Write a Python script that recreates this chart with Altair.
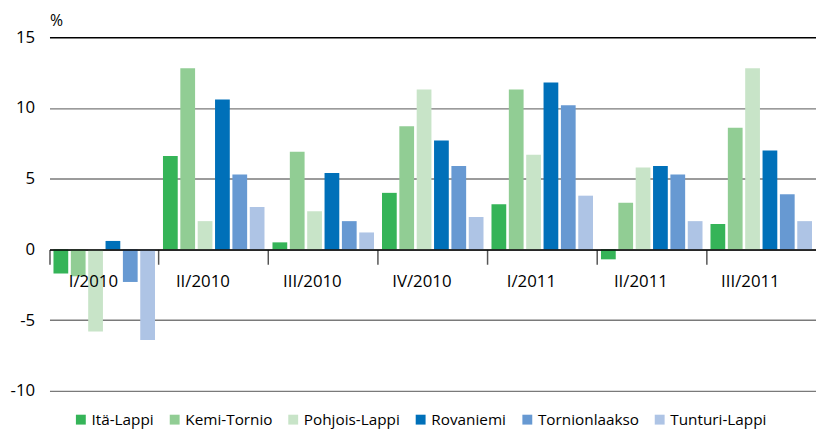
import altair as alt
import pandas as pd

quarters = ["I/2010", "II/2010", "III/2010", "IV/2010", "I/2011", "II/2011", "III/2011"]
regions = ["Itä-Lappi", "Kemi-Tornio", "Pohjois-Lappi", "Rovaniemi", "Tornionlaakso", "Tunturi-Lappi"]
colors = ["#35b458", "#91cd94", "#c8e4c8", "#0070b9", "#6799d2", "#aec4e5"]

ita_lappi = [-1.7, 6.6, 0.5, 4.0, 3.2, -0.7, 1.8]
kemi_tornio = [-1.9, 12.8, 6.9, 8.7, 11.3, 3.3, 8.6]
pohjois_lappi = [-5.8, 2.0, 2.7, 11.3, 6.7, 5.8, 12.8]
rovaniemi = [0.6, 10.6, 5.4, 7.7, 11.8, 5.9, 7.0]
tornionlaakso = [-2.3, 5.3, 2.0, 5.9, 10.2, 5.3, 3.9]
tunturi_lappi = [-6.4, 3.0, 1.2, 2.3, 3.8, 2.0, 2.0]

y_ticks = [-10, -5, 0, 5, 10, 15]

series = [ita_lappi, kemi_tornio, pohjois_lappi, rovaniemi, tornionlaakso, tunturi_lappi]
rows = []
for r, vals in zip(regions, series):
    for q, v in zip(quarters, vals):
        rows.append({"quarter": q, "region": r, "value": v})
df = pd.DataFrame(rows)

W = 776
H = 358
zero_offset = -(H * 10 / 25)

chart = alt.Chart(df).mark_bar().encode(
    x=alt.X(
        "quarter:N", sort=quarters,
        scale=alt.Scale(paddingInner=0, paddingOuter=0),
        axis=alt.Axis(
            title=None, orient="bottom", offset=zero_offset, bandPosition=0,
            labelOffset=-11,
            domainColor="black", domainWidth=1.5,
            tickColor="#555555", tickSize=15, tickWidth=1.5, labelPadding=10,
            labelFontSize=17, labelColor="black", labelAngle=0, zindex=1, grid=False,
        ),
    ),
    xOffset=alt.XOffset("region:N", sort=regions,
                        scale=alt.Scale(paddingInner=0.15, paddingOuter=0.23)),
    y=alt.Y(
        "value:Q",
        scale=alt.Scale(domain=[-10, 15], nice=False),
        axis=alt.Axis(
            values=y_ticks, title="%", titleAngle=0, titleX=0, titleY=-9,
            titleAlign="left", titleBaseline="bottom", titleFontSize=16,
            titleFontWeight="normal", titleColor="black",
            labelFontSize=17, labelColor="black", labelPadding=15,
            labelExpr="datum.value + ''",
            ticks=False, domain=False, grid=True,
            gridColor=alt.condition(alt.datum.value == 15, alt.value("black"), alt.value("#7a7a7a")),
            gridWidth=1.5,
        ),
    ),
    color=alt.Color(
        "region:N", sort=regions,
        scale=alt.Scale(domain=regions, range=colors),
        legend=alt.Legend(
            title=None, orient="none", legendX=24, legendY=379, direction="horizontal",
            symbolType="square", symbolSize=100, symbolStrokeWidth=0,
            labelFontSize=15.5, labelColor="black", columnPadding=13, labelOffset=3,
        ),
    ),
).properties(
    width=W, height=H,
    padding={"left": 2, "top": 2, "right": 0, "bottom": 0},
).configure(
    font="Open Sans",
).configure_view(stroke=None)

chart.save("out.html", embed_options={"renderer": "svg", "actions": False})
